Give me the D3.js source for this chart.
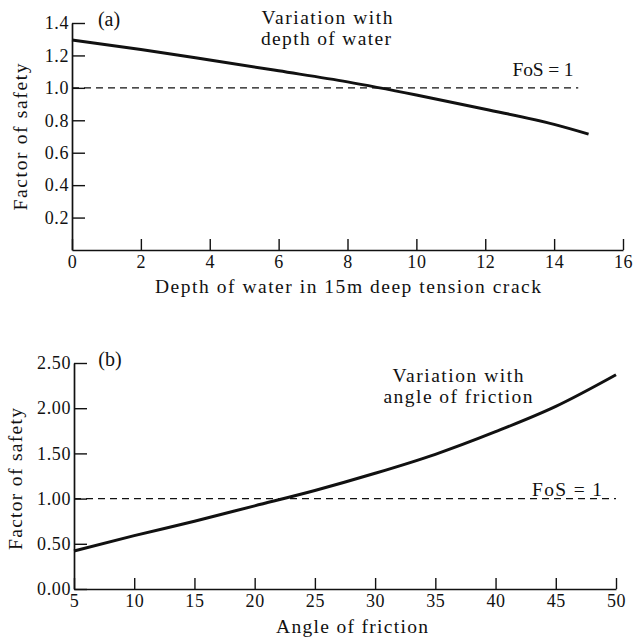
<!DOCTYPE html>
<html>
<head>
<meta charset="utf-8">
<script src="https://cdn.jsdelivr.net/npm/d3@7"></script>
<style>
  html, body { margin: 0; padding: 0; background: #fff; }
  svg text { font-family: "Liberation Serif", "Times New Roman", serif; fill: #111; }
</style>
</head>
<body>
<svg id="chart" width="635" height="639"></svg>
<script>
// ---- Data ----
const depthWater = [0, 2, 4, 6, 8, 10, 12, 14, 15];
const fosDepth   = [1.295, 1.237, 1.172, 1.105, 1.037, 0.956, 0.868, 0.775, 0.715];

const frictionAngle = [5, 10, 15, 20, 25, 30, 35, 40, 45, 50];
const fosFriction   = [0.42, 0.59, 0.75, 0.92, 1.09, 1.28, 1.49, 1.74, 2.02, 2.37];

const xTicksA = [0, 2, 4, 6, 8, 10, 12, 14, 16];
const yTicksA = [0.2, 0.4, 0.6, 0.8, 1.0, 1.2, 1.4];
const xTicksB = [5, 10, 15, 20, 25, 30, 35, 40, 45, 50];
const yTicksB = [0, 0.5, 1.0, 1.5, 2.0, 2.5];

const fosLine = 1.0;
const dashEndA = 14.7;
const dashEndB = 50;

const svg = d3.select("#chart");
const ink = "#111";

function panel(cfg) {
  const g = svg.append("g");
  const x = d3.scaleLinear().domain(cfg.xDomain).range(cfg.xRange);
  const y = d3.scaleLinear().domain(cfg.yDomain).range(cfg.yRange);

  const xAxis = d3.axisBottom(x).tickValues(cfg.xTicks).tickFormat(cfg.xFmt)
    .tickSizeInner(-11).tickSizeOuter(0).tickPadding(5);
  const yAxis = d3.axisLeft(y).tickValues(cfg.yTicks).tickFormat(cfg.yFmt)
    .tickSizeInner(-13).tickSizeOuter(0).tickPadding(3);

  const gx = g.append("g").attr("transform", `translate(0,${cfg.yRange[0]})`).call(xAxis);
  const gy = g.append("g").attr("transform", `translate(${cfg.xRange[0]},0)`).call(yAxis);
  [gx, gy].forEach(a => {
    a.select(".domain").attr("stroke", ink).attr("stroke-width", 1.7);
    a.selectAll(".tick line").attr("stroke", ink).attr("stroke-width", 1.4);
    a.selectAll(".tick text").attr("font-size", 18).attr("letter-spacing", 0.6)
      .attr("fill", ink).style("font-family", '"Liberation Serif", serif');
  });

  // dashed FoS line
  g.append("line")
    .attr("x1", x(cfg.xDomain[0])).attr("x2", x(cfg.dashEnd))
    .attr("y1", y(fosLine)).attr("y2", y(fosLine))
    .attr("stroke", ink).attr("stroke-width", 1.4).attr("stroke-dasharray", "7,5");

  // curve
  const line = d3.line().x(d => x(d[0])).y(d => y(d[1])).curve(d3.curveMonotoneX);
  g.append("path").datum(cfg.xs.map((v, i) => [v, cfg.ys[i]]))
    .attr("d", line).attr("fill", "none").attr("stroke", ink)
    .attr("stroke-width", 3).attr("stroke-linecap", "butt");

  // texts
  cfg.texts.forEach(t => {
    const el = g.append("text").attr("x", t.x).attr("y", t.y)
      .attr("font-size", t.size || 19.5).attr("text-anchor", t.anchor || "middle")
      .text(t.s);
    if (t.len) el.attr("textLength", t.len).attr("lengthAdjust", "spacing");
    if (t.rot) el.attr("transform", `rotate(-90,${t.x},${t.y})`);
  });
}

panel({
  xDomain: [0, 16], xRange: [72, 623],
  yDomain: [0, 1.4], yRange: [250, 23],
  xTicks: xTicksA, yTicks: yTicksA,
  xFmt: d3.format("d"), yFmt: d3.format(".1f"),
  dashEnd: dashEndA,
  xs: depthWater, ys: fosDepth,
  texts: [
    { s: "(a)", x: 109, y: 26, size: 20 },
    { s: "Variation with", x: 327, y: 24, len: 131 },
    { s: "depth of water", x: 326, y: 45, len: 130 },
    { s: "FoS = 1", x: 543, y: 76, len: 61 },
    { s: "Depth of water in 15m deep tension crack", x: 348, y: 293, len: 386 },
    { s: "Factor of safety", x: 27, y: 137, rot: true, len: 147 }
  ]
});

panel({
  xDomain: [5, 50], xRange: [74, 616],
  yDomain: [0, 2.5], yRange: [589, 363],
  xTicks: xTicksB, yTicks: yTicksB,
  xFmt: d3.format("d"), yFmt: d3.format(".2f"),
  dashEnd: dashEndB,
  xs: frictionAngle, ys: fosFriction,
  texts: [
    { s: "(b)", x: 110, y: 366, size: 20 },
    { s: "Variation with", x: 458, y: 382, len: 131 },
    { s: "angle of friction", x: 458, y: 403, len: 149 },
    { s: "FoS = 1", x: 567, y: 496, len: 70 },
    { s: "Angle of friction", x: 352, y: 633, len: 152 },
    { s: "Factor of safety", x: 22, y: 479, rot: true, len: 142 }
  ]
});
</script>
</body>
</html>
